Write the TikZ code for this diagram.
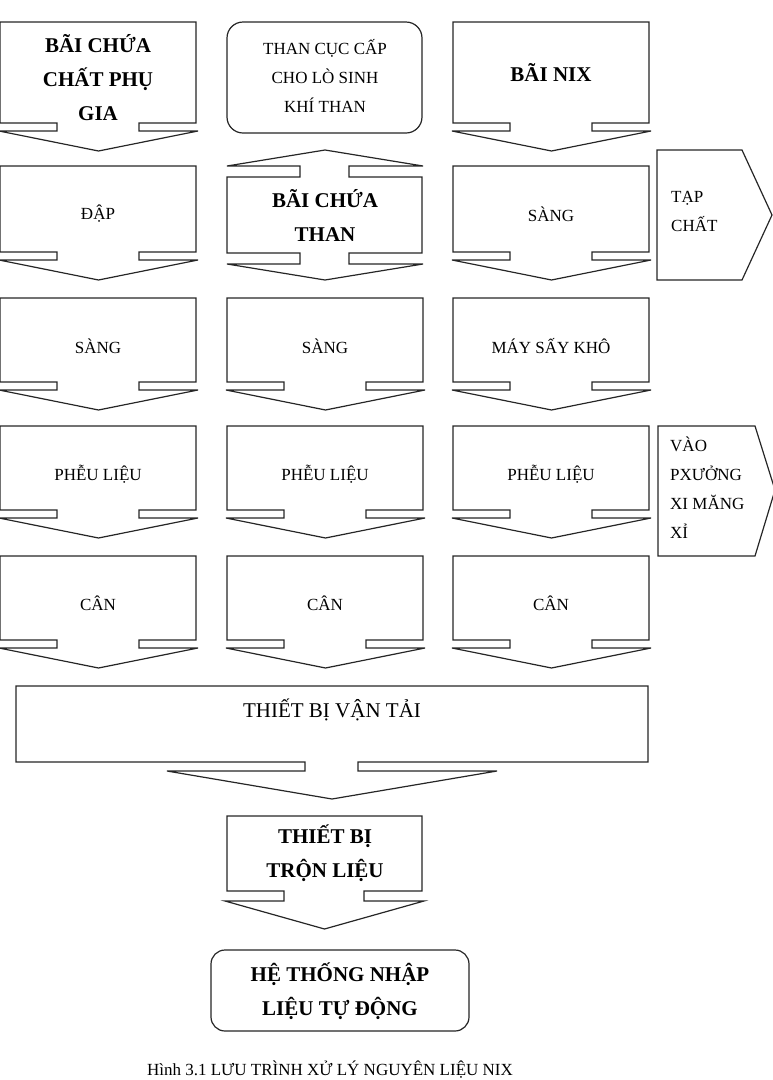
\documentclass[tikz,border=0pt]{standalone}
\usepackage{fontspec}
\setmainfont{Liberation Serif}
\begin{document}
\begin{tikzpicture}[x=1pt,y=-1pt,
  sh/.style={draw=black!85,line width=1.2pt,fill=white,line join=miter},
  t/.style={font=\fontsize{17}{29}\selectfont,align=center,inner sep=0pt},
  tb/.style={font=\fontsize{21}{34}\selectfont\bfseries,align=center,inner sep=0pt}]
\useasboundingbox (0,0) rectangle (773,1080);
\def\tipoff{28}
% #1 x0 #2 x1 #3 yt #4 yb #5 xl #6 xr #7 wl #8 wr #9 notch
\newcommand\dcall[9]{%
 \draw[sh] (#1,#3) -- (#2,#3) -- (#2,#4) -- (#6,#4) -- (#6,#4+#9) -- (#8,#4+#9)
  -- ({(#7+#8)/2},#4+\tipoff) -- (#7,#4+#9) -- (#5,#4+#9) -- (#5,#4) -- (#1,#4) -- cycle;}
\newcommand\ccall[3]{% column x0, yt, yb
 \dcall{#1}{#1+196}{#2}{#3}{#1+57}{#1+139}{#1-1}{#1+198}{8}}
% row 1
\ccall{0}{22}{123}
\node[tb] (a1) at (98,78) {BÃI CHỨA\\CHẤT PHỤ\\GIA};
\draw[sh,rounded corners=16pt] (227,22) rectangle (422,133);
\node[t] (b1) at (325,76) {THAN CỤC CẤP\\CHO LÒ SINH\\KHÍ THAN};
\ccall{453}{22}{123}
\node[tb] (c1) at (551,73) {BÃI NIX};
% row 2
\ccall{0}{166}{252}
\node[t] (a2) at (98,214) {ĐẬP};
\draw[sh] (227,177) -- (300,177) -- (300,166) -- (227,166) -- (325,150) -- (423,166)
  -- (349,166) -- (349,177) -- (422,177) -- (422,253) -- (349,253) -- (349,264)
  -- (423,264) -- (325,280) -- (227,264) -- (300,264) -- (300,253) -- (227,253) -- cycle;
\node[tb] (b2) at (325,215) {BÃI CHỨA\\THAN};
\ccall{453}{166}{252}
\node[t] (c2) at (551,214) {SÀNG};
\draw[sh] (657,150) -- (742,150) -- (772,215) -- (742,280) -- (657,280) -- cycle;
\node[t,align=left,anchor=west] (d2) at (671,211) {TẠP\\CHẤT};
% row 3
\ccall{0}{298}{382}
\node[t] (a3) at (98,346) {SÀNG};
\ccall{227}{298}{382}
\node[t] (b3) at (325,346) {SÀNG};
\ccall{453}{298}{382}
\node[t] (c3) at (551,346) {MÁY SẤY KHÔ};
% row 4
\ccall{0}{426}{510}
\node[t] (a4) at (98,474) {PHỄU LIỆU};
\ccall{227}{426}{510}
\node[t] (b4) at (325,474) {PHỄU LIỆU};
\ccall{453}{426}{510}
\node[t] (c4) at (551,474) {PHỄU LIỆU};
\draw[sh] (658,426) -- (755,426) -- (775,490) -- (755,556) -- (658,556) -- cycle;
\node[t,align=left,anchor=west] (d4) at (670,488) {VÀO\\PXƯỞNG\\XI MĂNG\\XỈ};
% row 5
\ccall{0}{556}{640}
\node[t] (a5) at (98,603) {CÂN};
\ccall{227}{556}{640}
\node[t] (b5) at (325,603) {CÂN};
\ccall{453}{556}{640}
\node[t] (c5) at (551,603) {CÂN};
% transport
\def\tipoff{37}
\dcall{16}{648}{686}{762}{305}{358}{167}{497}{9}
\node[t,font=\fontsize{21}{24}\selectfont] (e) at (332,710) {THIẾT BỊ VẬN TẢI};
% mixer
\def\tipoff{38}
\dcall{227}{422}{816}{891}{284}{364}{225}{424}{10}
\node[tb] (f) at (325,853) {THIẾT BỊ\\TRỘN LIỆU};
% feeding
\draw[sh,rounded corners=14pt] (211,950) rectangle (469,1031);
\node[tb] (g) at (340,991) {HỆ THỐNG NHẬP\\LIỆU TỰ ĐỘNG};
\node[t,anchor=north] (cap) at (330,1061) {Hình 3.1 LƯU TRÌNH XỬ LÝ NGUYÊN LIỆU NIX};
\end{tikzpicture}
\end{document}
